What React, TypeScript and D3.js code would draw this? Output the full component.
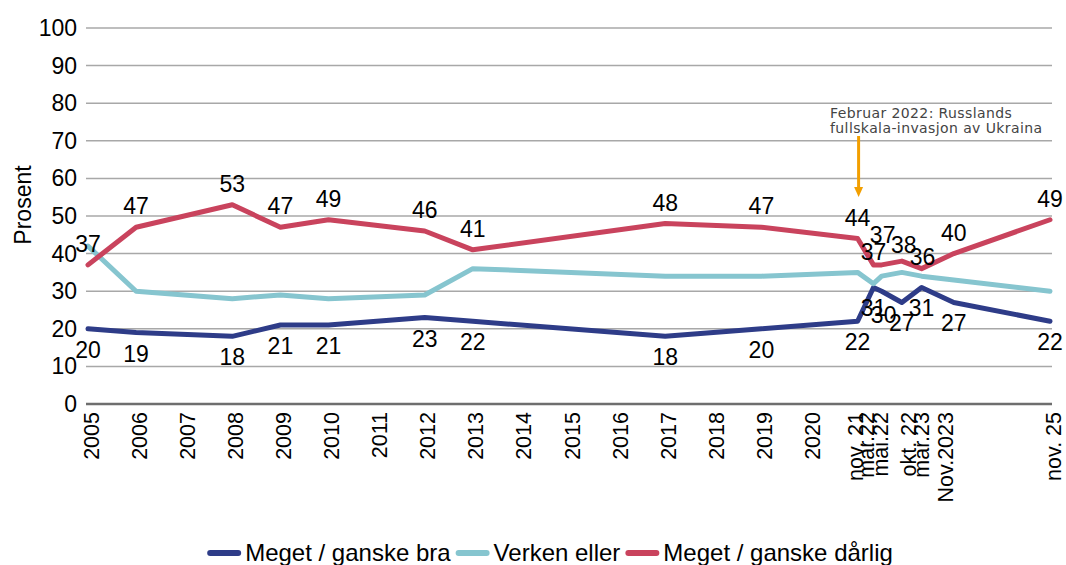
import React, { useEffect, useRef } from "react";
import * as d3 from "d3";

// ---- Data ----
const periods = ["2005", "2006", "2008", "2009", "2010", "2012", "2013", "2017", "2019", "nov. 21", "mar.22", "mai.22", "okt. 22", "mar.23", "Nov.2023", "nov. 25"];
const periodPos = [0, 1, 3, 4, 5, 7, 8, 12, 14, 16, 16.33, 16.5, 16.92, 17.33, 18, 20];
const goodValues = [20, 19, 18, 21, 21, 23, 22, 18, 20, 22, 31, 30, 27, 31, 27, 22];
const neitherValues = [42, 30, 28, 29, 28, 29, 36, 34, 34, 35, 32, 34, 35, 34, 33, 30];
const badValues = [37, 47, 53, 47, 49, 46, 41, 48, 47, 44, 37, 37, 38, 36, 40, 49];

const tickLabels = ["2005", "2006", "2007", "2008", "2009", "2010", "2011", "2012", "2013", "2014", "2015", "2016", "2017", "2018", "2019", "2020", "nov. 21", "mar.22", "mai.22", "okt. 22", "mar.23", "Nov.2023", "nov. 25"];
const tickPos = [0, 1, 2, 3, 4, 5, 6, 7, 8, 9, 10, 11, 12, 13, 14, 15, 15.9, 16.12, 16.41, 16.99, 17.27, 17.77, 20.0];
const yTicks = [0, 10, 20, 30, 40, 50, 60, 70, 80, 90, 100];

const seriesNames = ["Meget / ganske bra", "Verken eller", "Meget / ganske dårlig"];
const seriesColors = ["#2E3C88", "#86C5CF", "#C9435D"];

const annotationLines = ["Februar 2022: Russlands", "fullskala-invasjon av Ukraina"];
const annotationAt = 16; // nov. 21

// label nudges (dx, dy) for crowded labels
const badLabelShift: Record<string, [number, number]> = {
  "mar.22": [0, 8],
  "mai.22": [1, -9],
  "okt. 22": [2, 5],
  "mar.23": [1, 9],
};
const goodLabelShift: Record<string, [number, number]> = {
  "mai.22": [2, 3],
};

export default function App() {
  const ref = useRef<SVGSVGElement>(null);

  useEffect(() => {
    const svg = d3.select(ref.current);
    svg.selectAll("*").remove();
    const font = "'Liberation Sans', Arial, sans-serif";

    const x = d3.scaleLinear().domain([0, 20]).range([88, 1050]);
    const y = d3.scaleLinear().domain([0, 100]).range([404, 28]);
    const [gx0, gx1] = [x.range()[0] - 2, x.range()[1] + 2];

    // gridlines
    const grid = svg.append("g");
    grid.selectAll("line")
      .data(yTicks)
      .join("line")
      .attr("x1", gx0)
      .attr("x2", gx1)
      .attr("y1", (d) => y(d))
      .attr("y2", (d) => y(d))
      .attr("stroke", (d) => (d === 0 ? "#6e6e6e" : "#a8a8a8"))
      .attr("stroke-width", (d) => (d === 0 ? 2.5 : 1.5));

    // y tick labels
    svg.append("g")
      .selectAll("text")
      .data(yTicks)
      .join("text")
      .attr("x", 77)
      .attr("y", (d) => y(d))
      .attr("dy", "0.35em")
      .attr("text-anchor", "end")
      .attr("font-family", font)
      .attr("font-size", 23)
      .attr("fill", "#000")
      .text((d) => d);

    // y axis title
    svg.append("text")
      .attr("transform", `translate(31,205) rotate(-90)`)
      .attr("text-anchor", "middle")
      .attr("font-family", font)
      .attr("font-size", 23)
      .attr("fill", "#000")
      .text("Prosent");

    // x tick labels
    svg.append("g")
      .selectAll("text")
      .data(tickLabels)
      .join("text")
      .attr("transform", (d, i) => `translate(${x(tickPos[i]) + 3},412) rotate(-90)`)
      .attr("dy", "0.35em")
      .attr("text-anchor", "end")
      .attr("font-family", font)
      .attr("font-size", 21.5)
      .attr("fill", "#000")
      .text((d) => d);

    // lines
    const allSeries = [goodValues, neitherValues, badValues];
    const line = d3.line<number>()
      .x((d, i) => x(periodPos[i]))
      .y((d) => y(d));
    allSeries.forEach((vals, si) => {
      svg.append("path")
        .attr("d", line(vals))
        .attr("fill", "none")
        .attr("stroke", seriesColors[si])
        .attr("stroke-width", 5)
        .attr("stroke-linejoin", "round")
        .attr("stroke-linecap", "round");
    });

    // data labels
    const lbl = svg.append("g")
      .attr("font-family", font)
      .attr("font-size", 23)
      .attr("fill", "#000")
      .attr("text-anchor", "middle");
    badValues.forEach((v, i) => {
      const s = badLabelShift[periods[i]] || [0, 0];
      lbl.append("text")
        .attr("x", x(periodPos[i]) + s[0])
        .attr("y", y(v) - 13 + s[1])
        .text(v);
    });
    goodValues.forEach((v, i) => {
      const s = goodLabelShift[periods[i]] || [0, 0];
      lbl.append("text")
        .attr("x", x(periodPos[i]) + s[0])
        .attr("y", y(v) + 29 + s[1])
        .text(v);
    });

    // annotation
    const ax = x(annotationAt) + 1;
    svg.append("line")
      .attr("x1", ax).attr("x2", ax)
      .attr("y1", 136).attr("y2", 188)
      .attr("stroke", "#F29F00")
      .attr("stroke-width", 3);
    svg.append("path")
      .attr("d", `M${ax - 4.5},187 L${ax + 4.5},187 L${ax},197 Z`)
      .attr("fill", "#F29F00");
    const at = svg.append("text")
      .attr("font-family", "'DejaVu Sans', Verdana, sans-serif")
      .attr("font-size", 14)
      .attr("letter-spacing", 0.4)
      .attr("fill", "#444");
    annotationLines.forEach((t, i) => {
      at.append("tspan").attr("x", 830).attr("y", 118 + i * 15).text(t);
    });

    // legend
    const lg = svg.append("g");
    const sw = 34, gapA = 4, gapB = 5, ly = 553;
    const widths: number[] = [];
    const texts = seriesNames.map((n) => {
      const t = lg.append("text")
        .attr("font-family", font)
        .attr("font-size", 24)
        .attr("fill", "#000")
        .attr("y", 561)
        .text(n);
      widths.push((t.node() as SVGTextElement).getComputedTextLength());
      return t;
    });
    const total = widths.reduce((a, b) => a + b, 0) + seriesNames.length * (sw + gapA) + (seriesNames.length - 1) * gapB;
    let cx = 550 - total / 2;
    seriesNames.forEach((n, i) => {
      lg.append("line")
        .attr("x1", cx + 3).attr("x2", cx + sw - 3)
        .attr("y1", ly).attr("y2", ly)
        .attr("stroke", seriesColors[i])
        .attr("stroke-width", 6)
        .attr("stroke-linecap", "round");
      texts[i].attr("x", cx + sw + gapA);
      cx += sw + gapA + widths[i] + gapB;
    });
  }, []);

  return (
    <svg
      ref={ref}
      width={1066}
      height={565}
      style={{ position: "absolute", left: 0, top: 0, background: "#fff" }}
    />
  );
}
